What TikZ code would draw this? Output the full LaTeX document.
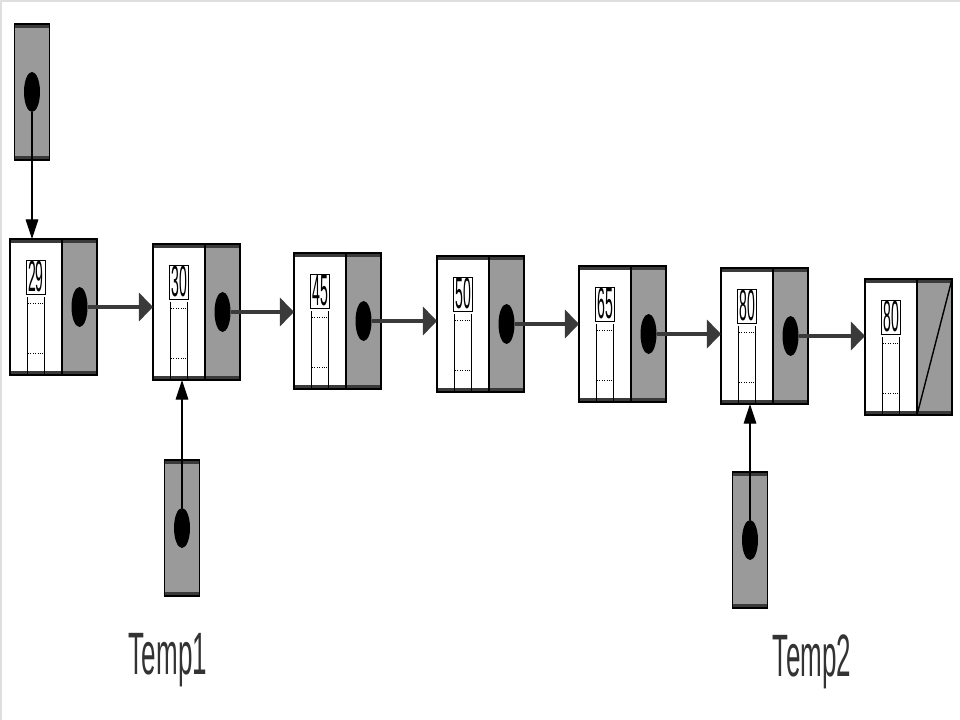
\documentclass[tikz,border=0pt]{standalone}
\usepackage{fontspec}
\setsansfont{Liberation Sans}
\usepackage{tikz}
\usetikzlibrary{arrows.meta,positioning,shapes.geometric}
\definecolor{rim}{HTML}{3A3A3A}
\definecolor{cellgray}{HTML}{9A9A9A}
\definecolor{labelgray}{HTML}{333333}

\begin{document}
\begin{tikzpicture}[
    x=0.025cm, y=-0.025cm,
    rims/.style={path picture={
        \fill[rim] (path picture bounding box.north west) rectangle ([yshift=-0.11cm]path picture bounding box.north east);
        \fill[rim] (path picture bounding box.south west) rectangle ([yshift=0.11cm]path picture bounding box.south east);}},
    datab/.style={rectangle, draw, line width=0.9pt, fill=white, outer sep=0pt, inner sep=0pt,
        minimum width=1.3cm, minimum height=3.4cm,
        path picture={
        \fill[rim] (path picture bounding box.north west) rectangle ([yshift=-0.11cm]path picture bounding box.north east);
        \fill[rim] (path picture bounding box.south west) rectangle ([yshift=0.11cm]path picture bounding box.south east);
        \draw[line width=0.5pt] ([xshift=-0.22cm,yshift=-1.45cm]path picture bounding box.north) -- ([xshift=-0.22cm]path picture bounding box.south);
        \draw[line width=0.5pt] ([xshift=0.22cm,yshift=-1.45cm]path picture bounding box.north) -- ([xshift=0.22cm]path picture bounding box.south);
        \draw[densely dotted, line width=0.7pt] ([xshift=-0.2cm,yshift=-1.6cm]path picture bounding box.north) -- ([xshift=0.2cm,yshift=-1.6cm]path picture bounding box.north);
        \draw[densely dotted, line width=0.7pt] ([xshift=-0.2cm,yshift=0.55cm]path picture bounding box.south) -- ([xshift=0.2cm,yshift=0.55cm]path picture bounding box.south);
        \node[draw, fill=none, line width=0.4pt, minimum width=0pt, minimum height=0pt, inner sep=1.2pt,
              text=black, font=\sffamily\fontsize{10}{12}\selectfont]
            at ([yshift=-0.95cm]path picture bounding box.north) {\scalebox{1}[3.1]{#1}};
        }},
    ptrb/.style={rectangle, draw, line width=0.9pt, fill=cellgray, outer sep=0pt, inner sep=0pt,
        minimum width=0.875cm, minimum height=3.4cm, rims},
    dot/.style={ellipse, fill=black, minimum width=0.4cm, minimum height=1cm, inner sep=0pt},
    arrow/.style={-{Triangle[length=10pt, width=20pt]}, line width=2.5pt, rim},
    thinarrow/.style={-{Triangle[length=14pt, width=9pt]}, line width=0.8pt},
    tag/.style={font=\sffamily\fontsize{18.5}{20}\selectfont, text=labelgray}
]
    \useasboundingbox (0,0) rectangle (960,720);
    \draw[gray!25, line width=2pt] (0,1) -- (960,1);
    \draw[gray!25, line width=1pt] (1,0) -- (1,720);

    % the list
    \node[datab=29] (d1) at (36,307) {};
    \node[ptrb, right=0pt of d1] (p1) {};
    \node[datab=30] (d2) at (179,312) {};
    \node[ptrb, right=0pt of d2] (p2) {};
    \node[datab=45] (d3) at (320,321) {};
    \node[ptrb, right=0pt of d3] (p3) {};
    \node[datab=50] (d4) at (463,324) {};
    \node[ptrb, right=0pt of d4] (p4) {};
    \node[datab=65] (d5) at (605,334) {};
    \node[ptrb, right=0pt of d5] (p5) {};
    \node[datab=80] (d6) at (747,336) {};
    \node[ptrb, right=0pt of d6] (p6) {};
    \node[datab=80] (d7) at (891,347) {};
    \node[ptrb, right=0pt of d7] (p7) {};
    \draw[line width=1pt] (p7.south west) -- (p7.north east);

    \foreach \i in {1,...,6} {
        \node[dot] (o\i) at (p\i) {};
    }

    % head and temp pointers
    \node[ptrb] (head) at (32,92) {};
    \node[dot] (hdot) at (head) {};
    \node[ptrb] (temp1) at (182,528) {};
    \node[dot] (t1dot) at (temp1) {};
    \node[ptrb] (temp2) at (750,540) {};
    \node[dot] (t2dot) at (temp2) {};

    \node[tag] (lab1) at (168,660) {\scalebox{1}[2.3]{Temp1}};
    \node[tag] (lab2) at (812,662) {\scalebox{1}[2.3]{Temp2}};

    \draw[arrow] (o1) -- (o1 -| d2.west);
    \draw[arrow] (o2) -- (o2 -| d3.west);
    \draw[arrow] (o3) -- (o3 -| d4.west);
    \draw[arrow] (o4) -- (o4 -| d5.west);
    \draw[arrow] (o5) -- (o5 -| d6.west);
    \draw[arrow] (o6) -- (o6 -| d7.west);

    \draw[thinarrow] (hdot) -- (hdot |- d1.north);
    \draw[thinarrow] (t1dot) -- (t1dot |- d2.south);
    \draw[thinarrow] (t2dot) -- (t2dot |- d6.south);
\end{tikzpicture}
\end{document}
